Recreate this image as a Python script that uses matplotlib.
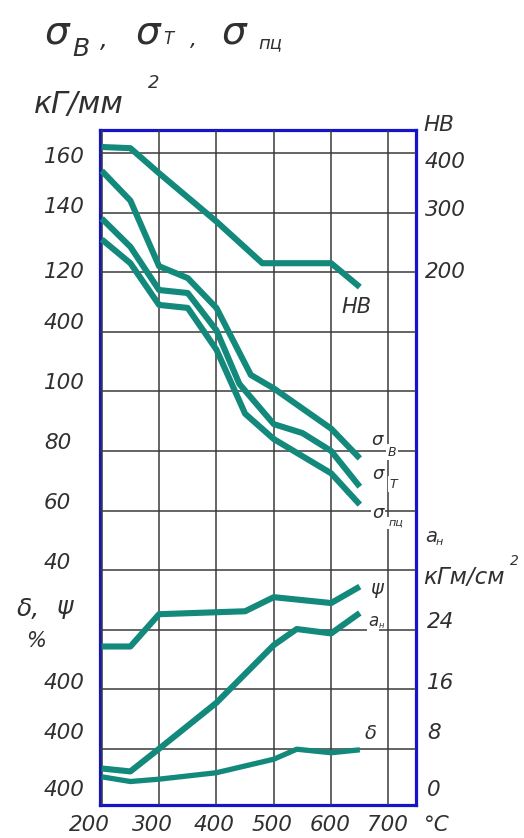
import matplotlib
matplotlib.use("Agg")
import matplotlib.pyplot as plt

plt.rcParams['font.family'] = ['DejaVu Sans']
plt.rcParams['font.style'] = 'italic'

# ---- data: tempering temperature (°C) vs. properties ----
t_hb = [200, 250, 300, 400, 480, 600, 650]
hb = [410, 408, 366, 285, 215, 215, 175]

t_sigma_b = [200, 250, 300, 350, 400, 460, 500, 600, 650]
sigma_b = [174, 164, 142, 138, 128, 105.5, 101, 87.5, 77.5]

t_sigma_t = [200, 250, 300, 350, 400, 440, 460, 500, 550, 600, 650]
sigma_t = [158, 148.5, 134, 133, 120.5, 102.5, 98, 89, 86, 80, 68]

t_sigma_pc = [200, 250, 300, 350, 400, 450, 500, 600, 650]
sigma_pc = [151, 143, 129, 128, 114, 92.5, 84, 72.5, 62]

t_psi = [200, 250, 300, 450, 500, 600, 650]
psi = [27, 27, 32.5, 33, 35.4, 34.4, 37.2]

t_delta = [200, 250, 300, 400, 500, 540, 600, 650]
delta = [4.8, 4.0, 4.4, 5.5, 7.8, 9.5, 8.9, 9.4]

t_an = [200, 250, 300, 400, 500, 540, 600, 650]
a_n = [5.0, 4.6, 7.7, 14.0, 21.9, 24.1, 23.5, 26.3]

x_ticks = [200, 300, 400, 500, 600, 700]
x_labels = ['200', '300', '400', '500', '600', '700']

stress_grid = [180, 160, 140, 120, 100, 80, 60, 40, 20, 0, -20]
S_MIN, S_MAX = -38.8, 187.7
left_ticks = [180, 160, 140, 120, 100, 80, 60, 40, 0, -20, S_MIN]
left_labels = ['160', '140', '120', '400', '100', '80', '60', '40',
               '400', '400', '400']
hb_ticks = [400, 300, 200]
an_ticks = [24, 16, 8, 0]

# ---- layout: small pixel nudges for the hand-placed axis numbers ----
left_nudge = [-4, 6, 0, 9, 8, 8, 8, 7, 6, 16, 15]
hb_nudge = [-9, 3, 0]
an_nudge = [8, 5, 14, 15]
x_nudge = [-12, -7, -2, -2, -1, -1]

# ---- styles ----
CURVE = '#13897c'
GRID = '#3a3a3a'
FRAME = '#1414c8'
TXT = '#303030'
W, H = 524, 838


def fx(px):
    return px / W


def fy(py):
    return 1 - py / H


def put(px, py, s, size, ha='center', va='center', box=False, **kw):
    bbox = dict(facecolor='white', edgecolor='none', pad=1.0) if box else None
    return fig.text(fx(px), fy(py), s, fontsize=size, ha=ha, va=va,
                    color=TXT, bbox=bbox, **kw)


fig = plt.figure(figsize=(W / 100, H / 100), dpi=100)
ax = fig.add_axes([fx(100), 1 - 805 / H, 316 / W, 675 / H])
ax.set_xlim(197, 748)
ax.set_ylim(S_MIN, S_MAX)
ax.set_xticks(x_ticks)
ax.set_yticks(stress_grid)
ax.grid(True, color=GRID, lw=1.1)
ax.tick_params(length=0, labelleft=False, labelbottom=False)
for sp in ax.spines.values():
    sp.set_color(FRAME)
    sp.set_linewidth(2.3)
    sp.set_zorder(1)


# secondary scales sharing the temperature axis
def hb_of(s):
    return 400 + (s - 180) * 5


def pct_of(s):
    return (s - S_MIN) * 40 / (40 - S_MIN)


def an_of(s):
    return (s - S_MIN) * 24 / (20 - S_MIN)


def overlay(conv):
    a = ax.twinx()
    a.set_ylim(conv(S_MIN), conv(S_MAX))
    a.axis('off')
    return a


ax_hb = overlay(hb_of)
ax_pct = overlay(pct_of)
ax_an = overlay(an_of)

lw = 4.4
kw = dict(color=CURVE, lw=lw, solid_joinstyle='round', solid_capstyle='butt',
          clip_on=False)
ax.plot(t_sigma_b, sigma_b, **kw)
ax.plot(t_sigma_t, sigma_t, **kw)
ax.plot(t_sigma_pc, sigma_pc, **kw)
ax_hb.plot(t_hb, hb, **kw)
ax_pct.plot(t_psi, psi, **kw)
ax_pct.plot(t_delta, delta, **dict(kw, lw=3.8))
ax_an.plot(t_an, a_n, **kw)

# ---- axis numbers ----
TICK = 15.5
for v, s, dy in zip(left_ticks, left_labels, left_nudge):
    ax.annotate(s, xy=(0, v), xycoords=('figure fraction', 'data'),
                xytext=(44, dy), textcoords='offset pixels',
                ha='left', va='center', fontsize=TICK, color=TXT,
                annotation_clip=False)
for v, dy in zip(hb_ticks, hb_nudge):
    ax_hb.annotate(str(v), xy=(0, v), xycoords=('figure fraction', 'data'),
                   xytext=(425, dy), textcoords='offset pixels',
                   ha='left', va='center', fontsize=TICK, color=TXT,
                   annotation_clip=False)
for v, dy in zip(an_ticks, an_nudge):
    ax_an.annotate(str(v), xy=(0, v), xycoords=('figure fraction', 'data'),
                   xytext=(427, dy), textcoords='offset pixels',
                   ha='left', va='center', fontsize=TICK, color=TXT,
                   annotation_clip=False)
for v, s, dx in zip(x_ticks, x_labels, x_nudge):
    ax.annotate(s, xy=(v, 0), xycoords=('data', 'figure fraction'),
                xytext=(dx, 13), textcoords='offset pixels',
                ha='center', va='center', fontsize=TICK, color=TXT,
                annotation_clip=False)
put(437, 825, '°C', TICK)

# ---- titles / units ----
put(57, 32, 'σ', 28)
put(81, 49, 'В', 18)
put(104, 40, ',', 18)
put(148, 32, 'σ', 28)
put(168, 39, 'Т', 12)
put(193, 40, ',', 16)
put(234, 32, 'σ', 28)
put(270, 43, 'пц', 13)

put(34, 104, 'кГ/мм', 21.5, ha='left')
put(154, 83, '2', 13)

put(423, 125, 'HB', 15.5, ha='left')
put(425, 536, 'a', 14, ha='left')
put(436, 542, 'н', 8, ha='left')
put(423, 577, 'кГм/см', 16.5, ha='left')
put(510, 561, '2', 10, ha='left')

put(17, 609, 'δ,', 18, ha='left')
put(57, 607, 'ψ', 18, ha='left')
put(36, 641, '%', 15)

# ---- curve labels ----
put(356, 307, 'HB', 15, box=True)
put(377, 440, 'σ', 13, box=True)
put(392, 452, 'В', 9, box=True)
put(378, 474, 'σ', 13, box=True)
put(393, 484, 'Т', 9, box=True)
put(378, 513, 'σ', 13, box=True)
put(396, 523, 'пц', 8, box=True)
put(377, 588, 'ψ', 14, box=True)
put(373, 621, 'a', 12, box=True)
put(381, 625, 'н', 6)
put(371, 733, 'δ', 14, box=True)

fig.savefig('out.png', dpi=100, facecolor='white')
